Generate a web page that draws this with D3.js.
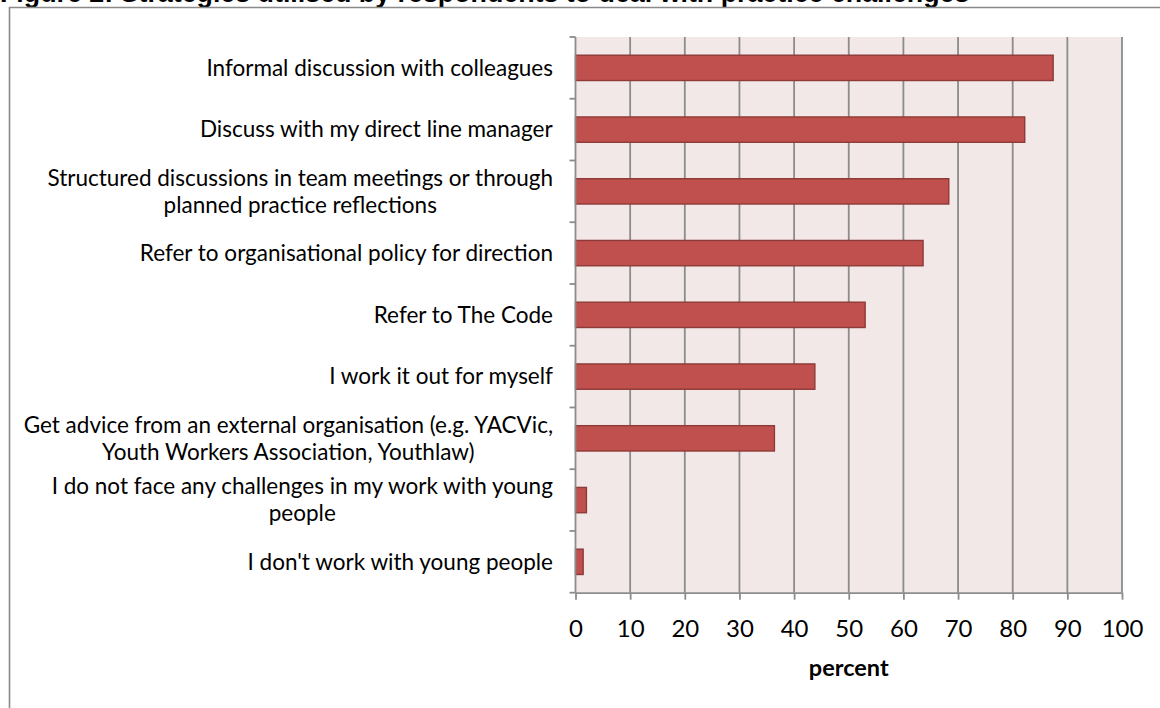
<!DOCTYPE html>
<html>
<head>
<meta charset="utf-8">
<script src="https://cdn.jsdelivr.net/npm/d3@7"></script>
<style>
  html, body { margin: 0; padding: 0; background: #ffffff; }
  svg { display: block; }
</style>
</head>
<body>
<svg id="chart" width="1160" height="708"></svg>
<script>
// Survey strategies, top to bottom as listed on the chart
const categories = [
  ["Informal discussion with colleagues"],
  ["Discuss with my direct line manager"],
  ["Structured discussions in team meetings or through", "planned practice reflections"],
  ["Refer to organisational policy for direction"],
  ["Refer to The Code"],
  ["I work it out for myself"],
  ["Get advice from an external organisation (e.g. YACVic,", "Youth Workers Association, Youthlaw)"],
  ["I do not face any challenges in my work with young", "people"],
  ["I don't work with young people"]
];
// Share of respondents (percent)
const values = [87.4, 82.2, 68.3, 63.6, 53.0, 43.8, 36.4, 2.0, 1.4];
const xTicks = [0, 10, 20, 30, 40, 50, 60, 70, 80, 90, 100];
const titleText = "Figure 2: Strategies utilised by respondents to deal with practice challenges";
const xAxisTitle = "percent";

const svg = d3.select("#chart");
const W = 1160, H = 708;
const plot = { left: 575.5, right: 1122, top: 37, bottom: 592.7 };

const labelFont = "Lato, 'Open Sans', sans-serif";
const grid = "#8c8c8c";

// Title (partly above the page edge)
svg.append("text")
  .attr("x", 0).attr("y", 1.5)
  .attr("font-family", "'Liberation Sans', Arial, sans-serif")
  .attr("font-weight", "bold")
  .attr("font-size", 26.8)
  .attr("fill", "#000")
  .text(titleText);

// Outer chart frame (top and left edges visible)
svg.append("path")
  .attr("d", `M${W},7.5 L9.5,7.5 L9.5,${H}`)
  .attr("fill", "none")
  .attr("stroke", "#8a8a8a")
  .attr("stroke-width", 1.6);

const keys = categories.map((c, i) => i);
const y = d3.scaleBand()
  .domain(keys)
  .range([plot.top, plot.bottom])
  .paddingInner(0.59)
  .paddingOuter(0.295);

const x = d3.scaleLinear().domain([0, 100]).range([plot.left, plot.right]);

// Plot area background
svg.append("rect")
  .attr("x", plot.left).attr("y", plot.top)
  .attr("width", plot.right - plot.left)
  .attr("height", plot.bottom - plot.top)
  .attr("fill", "#f2e8e8");

// Vertical gridlines
svg.append("g")
  .selectAll("line")
  .data(xTicks.filter(d => d > 0))
  .join("line")
  .attr("x1", d => x(d)).attr("x2", d => x(d))
  .attr("y1", plot.top).attr("y2", plot.bottom)
  .attr("stroke", grid)
  .attr("stroke-width", 1.8);

// Bars
svg.append("g")
  .selectAll("rect")
  .data(values)
  .join("rect")
  .attr("x", x(0))
  .attr("y", (d, i) => y(i))
  .attr("width", d => x(d) - x(0))
  .attr("height", y.bandwidth())
  .attr("fill", "#c0504d")
  .attr("stroke", "#8e3a38")
  .attr("stroke-width", 1.4);

// X axis
const xAxis = d3.axisBottom(x)
  .tickValues(xTicks)
  .tickSize(7)
  .tickSizeOuter(0)
  .tickPadding(20);
const gx = svg.append("g")
  .attr("transform", `translate(0,${plot.bottom})`)
  .call(xAxis);
gx.select(".domain").attr("stroke", grid).attr("stroke-width", 1.8);
gx.selectAll(".tick line").attr("stroke", grid).attr("stroke-width", 1.8);
gx.selectAll(".tick text")
  .attr("font-family", labelFont)
  .attr("font-size", 24)
  .attr("fill", "#000");

// Y axis: tick marks at category boundaries
const boundaries = d3.range(categories.length + 1).map(i => plot.top + i * y.step());
svg.append("line")
  .attr("x1", plot.left).attr("x2", plot.left)
  .attr("y1", plot.top).attr("y2", plot.bottom)
  .attr("stroke", grid).attr("stroke-width", 1.8);
svg.append("g")
  .selectAll("line")
  .data(boundaries)
  .join("line")
  .attr("x1", plot.left - 6).attr("x2", plot.left)
  .attr("y1", d => d).attr("y2", d => d)
  .attr("stroke", grid).attr("stroke-width", 1.8);

// Category labels, wrapped lines centred on one another, block right-aligned
const lineH = 27;
const labelRight = 553;
const lg = svg.append("g")
  .attr("font-family", labelFont)
  .attr("font-size", 22.5)
  .attr("fill", "#000");
categories.forEach((lines, i) => {
  const cy = y(i) + y.bandwidth() / 2;
  const t = lg.append("text").attr("text-anchor", "middle");
  lines.forEach((ln, j) => {
    t.append("tspan")
      .attr("x", 0)
      .attr("y", cy + (j - (lines.length - 1) / 2) * lineH)
      .attr("dy", "0.35em")
      .text(ln);
  });
  const w = t.node().getBBox().width;
  t.attr("transform", `translate(${labelRight - w / 2},0)`);
});

// X axis title
svg.append("text")
  .attr("x", (plot.left + plot.right) / 2)
  .attr("y", 676)
  .attr("text-anchor", "middle")
  .attr("font-family", labelFont)
  .attr("font-weight", "bold")
  .attr("font-size", 23.5)
  .attr("fill", "#000")
  .text(xAxisTitle);
</script>
</body>
</html>
